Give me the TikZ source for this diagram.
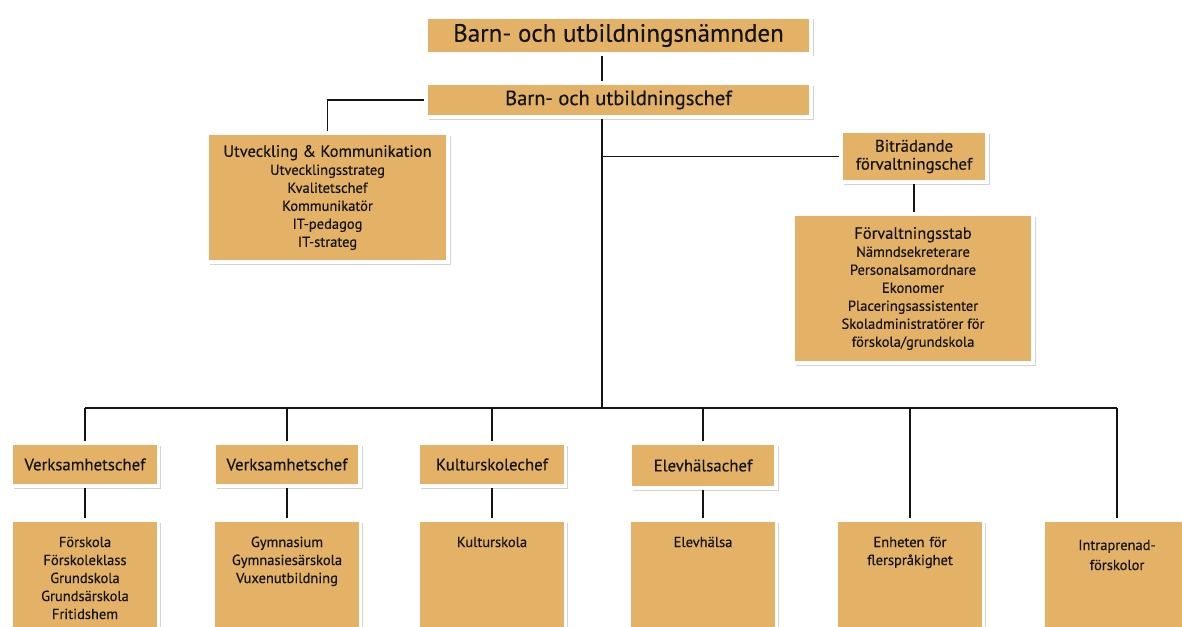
\documentclass[tikz,border=0pt]{standalone}
\usepackage{fontspec}
\setmainfont{PT Sans}[FakeBold=0.4]
\usetikzlibrary{shadows, calc}

\definecolor{boxfill}{RGB}{227,178,102}
\definecolor{linegray}{RGB}{20,20,20}

\tikzset{
    unit/.style={draw=white, line width=3.5pt, fill=boxfill, align=center,
        inner sep=0pt, text=black!92,
        drop shadow={opacity=0.35, shadow xshift=2.5pt, shadow yshift=-2.5pt}},
    head/.style={font=\fontsize{16.8}{18}\selectfont},
    item/.style={font=\fontsize{14.5}{18}\selectfont},
    topbox/.style={unit, item, text height=27pt, text depth=103pt},
    conn/.style={draw=linegray, line width=1.6pt}
}

\begin{document}
\begin{tikzpicture}[x=1pt, y=-1pt]
    \useasboundingbox (0,0) rectangle (1182,626);
    \clip (0,0) rectangle (1182,626);
    \coordinate (spine) at (602,0);
    \coordinate (bus) at (602,408);

    % top of the tree
    \node[unit, minimum width=385, minimum height=37, font=\fontsize{25}{28}\selectfont]
        (nmd) at (618.5,35.5) {Barn- och utbildningsnämnden};
    \node[unit, minimum width=385, minimum height=34, font=\fontsize{20.5}{22}\selectfont]
        (chef) at (618.5,100) {Barn- och utbildningschef};

    % staff
    \node[unit, minimum width=241, minimum height=129, item] (utv) at (327.5,197.5)
        {{\fontsize{16.5}{18}\selectfont Utveckling \& Kommunikation}\\Utvecklingsstrateg\\Kvalitetschef\\Kommunikatör\\IT-pedagog\\IT-strateg};
    \node[unit, minimum width=146, minimum height=51, head] (bitr) at (914,156.5)
        {Biträdande\\förvaltningschef};
    \node[unit, minimum width=240, minimum height=149, item] (stab) at (913,288.5)
        {{\fontsize{16.5}{18}\selectfont Förvaltningsstab}\\Nämndsekreterare\\Personalsamordnare\\Ekonomer\\Placeringsassistenter\\Skoladministratörer för\\förskola/grundskola};

    % second row
    \node[unit, minimum width=147, minimum height=43, head] (v1) at (85,464.5) {Verksamhetschef};
    \node[unit, minimum width=146, minimum height=43, head] (v2) at (287,464.5) {Verksamhetschef};
    \node[unit, minimum width=147, minimum height=43, head] (kult) at (492,464.5) {Kulturskolechef};
    \node[unit, minimum width=146, minimum height=45, head] (elev) at (703,465.5) {Elevhälsachef};

    % third row
    \node[topbox, text width=147] (fsk) at (85,585)
        {Förskola\\Förskoleklass\\Grundskola\\Grundsärskola\\Fritidshem};
    \node[topbox, text width=147] (gym) at (287,585)
        {Gymnasium\\Gymnasiesärskola\\Vuxenutbildning};
    \node[topbox, text width=147] (ksk) at (492,585) {Kulturskola};
    \node[topbox, text width=147] (ehs) at (703,585) {Elevhälsa};
    \node[topbox, text width=147] (enh) at (910,585) {Enheten för\\flerspråkighet};
    \node[topbox, text width=147, text height=30pt, text depth=100pt,
        font=\fontsize{14.5}{20}\selectfont] (intra) at (1117,585)
        {Intraprenad-\\förskolor};

    % connectors
    \draw[conn] (nmd.south -| spine) -- (chef.north -| spine);
    \draw[conn] (chef.west) -| (utv.north);
    \draw[conn] (chef.south -| spine) -- (bus);
    \draw[conn] (spine |- bitr.west) -- (bitr.west);
    \draw[conn] (bitr.south) -- (bitr.south |- stab.north);
    \draw[conn] (bus -| v1.north) -- (bus -| intra.north);
    \foreach \n in {v1, v2, kult, elev, enh, intra}
        \draw[conn] (bus -| \n.north) -- (\n.north);
    \foreach \a/\b in {v1/fsk, v2/gym, kult/ksk, elev/ehs}
        \draw[conn] (\a.south) -- (\b.north);
\end{tikzpicture}
\end{document}
